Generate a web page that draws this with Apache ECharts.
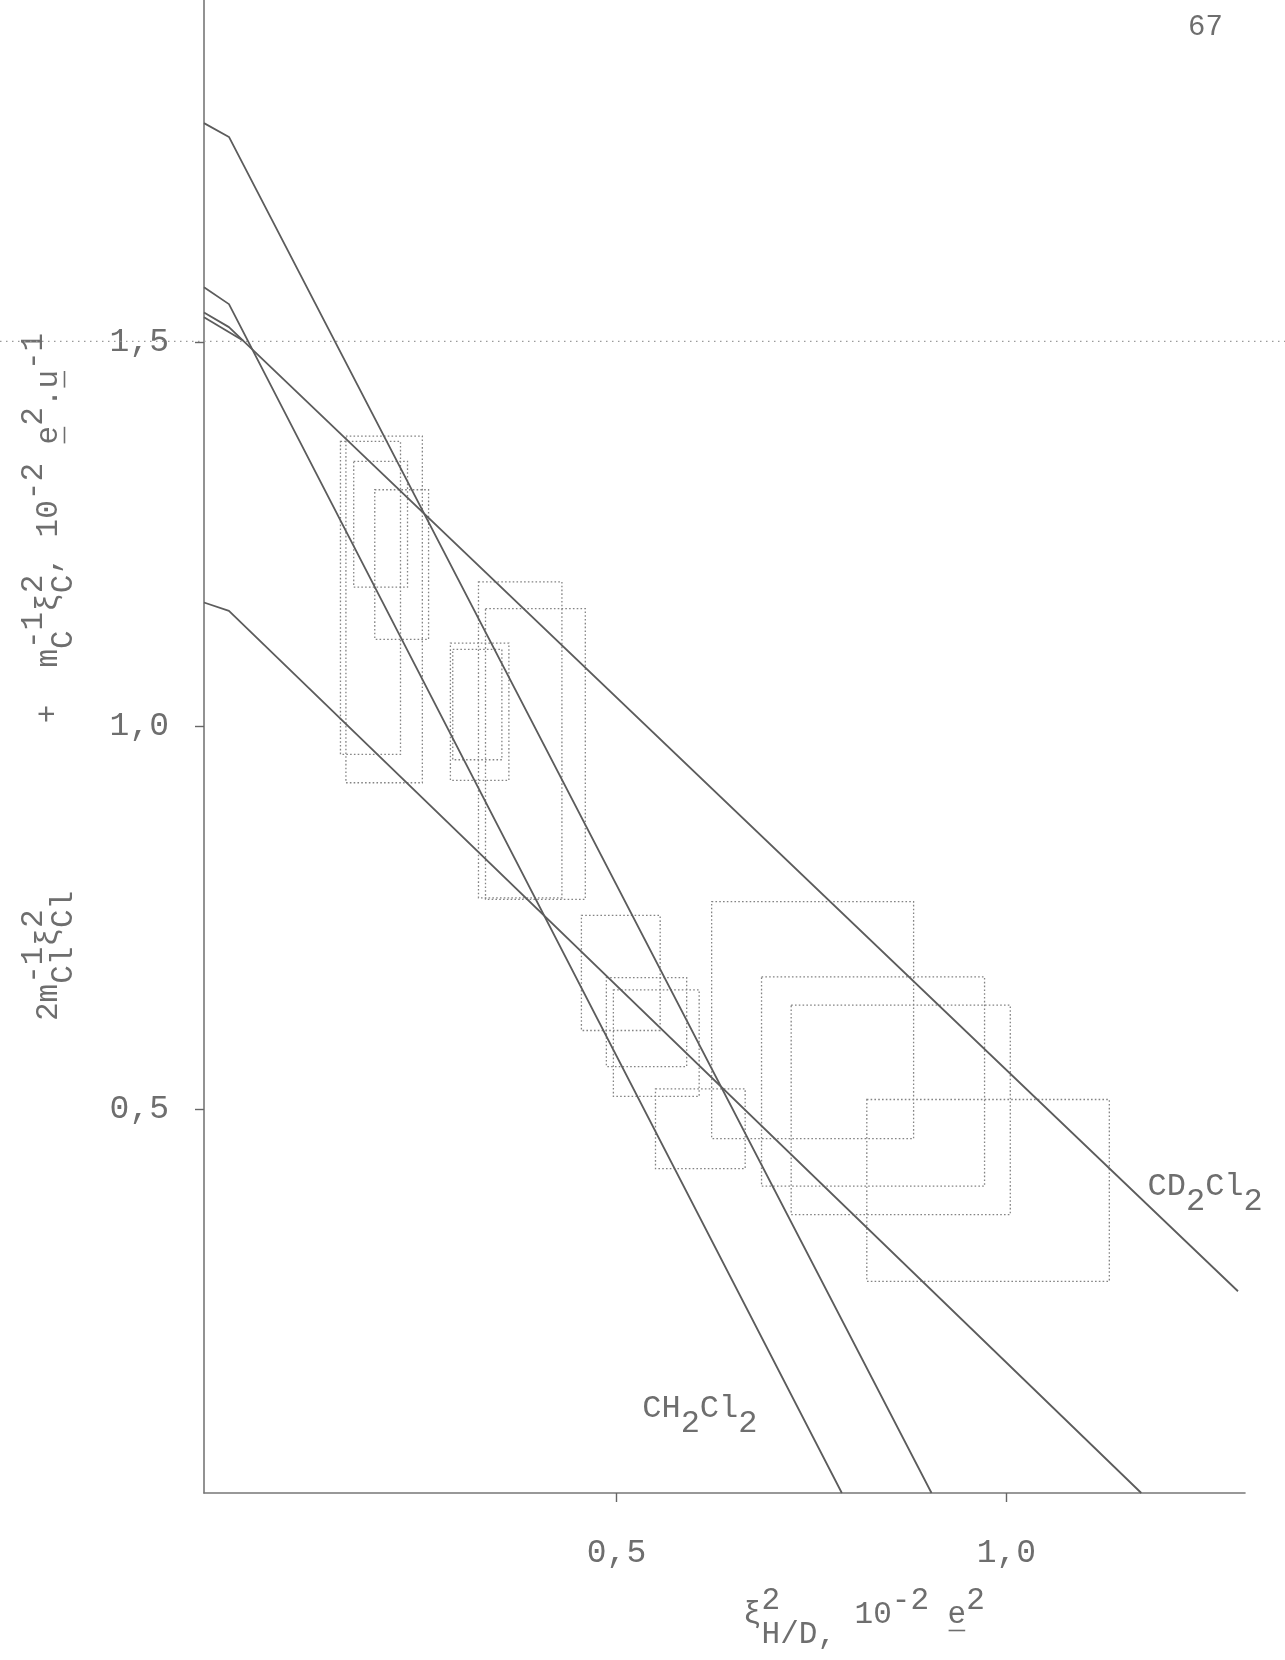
<!DOCTYPE html>
<html>
<head>
<meta charset="utf-8">
<script src="https://cdn.jsdelivr.net/npm/echarts@6/dist/echarts.min.js"></script>
<style>
  html, body { margin: 0; padding: 0; background: #ffffff; }
  #chart { width: 1285px; height: 1660px; }
</style>
</head>
<body>
<div id="chart"></div>
<script>
// Axis ticks (x: 10^-2 e^2, y: 10^-2 e^2 u^-1)
const xTicks = [0.5, 1.0];
const yTicks = [0.5, 1.0, 1.5];

// Fitted lines as [x, y] vertices; the first short segment is the pen lead-in at the axis
const lineA = [[-0.029, 1.786], [0.003, 1.768], [0.904, 0.0]];
const lineB = [[-0.029, 1.572], [0.003, 1.550], [0.789, 0.0]];
const lineC = [[-0.029, 1.539], [0.003, 1.520], [1.297, 0.263]];
const lineCRetrace = [[-0.029, 1.533], [0.021, 1.5025]];
const lineD = [[-0.029, 1.161], [0.003, 1.150], [1.173, 0.0]];

// Uncertainty boxes: [x from, x to, y from, y to]
const boxes = [
  [0.153, 0.251, 0.926, 1.378],
  [0.146, 0.223, 0.963, 1.371],
  [0.163, 0.232, 1.181, 1.345],
  [0.190, 0.259, 1.113, 1.308],
  [0.323, 0.430, 0.776, 1.188],
  [0.332, 0.460, 0.774, 1.153],
  [0.287, 0.362, 0.929, 1.108],
  [0.290, 0.353, 0.956, 1.100],
  [0.455, 0.556, 0.603, 0.753],
  [0.487, 0.590, 0.556, 0.672],
  [0.496, 0.606, 0.517, 0.656],
  [0.550, 0.665, 0.423, 0.527],
  [0.622, 0.881, 0.462, 0.771],
  [0.686, 0.972, 0.400, 0.673],
  [0.724, 1.005, 0.363, 0.636],
  [0.821, 1.132, 0.276, 0.513]
];

// Curve names and where their text starts (data coordinates, main text line centre)
const curveNames = [
  { tokens: [['CD', 0], ['2', 1], ['Cl', 0], ['2', 1]], at: [1.181, 0.400] },
  { tokens: [['CH', 0], ['2', 1], ['Cl', 0], ['2', 1]], at: [0.533, 0.110] }
];

// Axis titles, typewriter style: [text, row(-1 sup, 0 main, 1 sub), underline]; stacks share columns
const yTitle = [
  ['2m', 0], { sup: '-1', sub: 'Cl' }, ['ξ', 0], { sup: '2', sub: 'Cl' },
  ['         +  m', 0], { sup: '-1', sub: 'C' }, ['ξ', 0], { sup: '2', sub: 'C' },
  [', 10', 0], ['-2', -1], [' ', 0], ['e', 0, true], ['2', -1], ['.', 0], ['u', 0, true], ['-1', -1]
];
const xTitle = [
  ['ξ', 0], { sup: '2', sub: 'H/D,' }, [' 10', 0], ['-2', -1], [' ', 0], ['e', 0, true], ['2', -1]
];
const pageNumber = '67';

const FONT = '"Liberation Mono", "DejaVu Sans Mono", monospace';
const INK = '#6e6e6e';
const LINE_INK = '#5c5c5c';
const BOX_INK = '#848484';

const chart = echarts.init(document.getElementById('chart'), null, { renderer: 'canvas' });

const fmt = v => v.toFixed(1).replace('.', ',');

function lineSeries(data) {
  return {
    type: 'line', data: data, symbol: 'none', clip: false, z: 3,
    lineStyle: { color: LINE_INK, width: 1.8 }
  };
}

chart.setOption({
  animation: false,
  backgroundColor: '#ffffff',
  grid: { left: 204, top: 0, width: 1041, height: 1493 },
  xAxis: {
    type: 'value', min: -0.029, max: 1.306,
    axisLine: { show: true, lineStyle: { color: '#777777', width: 1.6 } },
    axisTick: { show: true, customValues: xTicks, length: 9, lineStyle: { color: '#666666', width: 1.4 } },
    axisLabel: { customValues: xTicks, formatter: fmt, margin: 44, fontFamily: FONT, fontSize: 33, color: INK },
    splitLine: { show: false }
  },
  yAxis: {
    type: 'value', min: 0, max: 1.9465,
    axisLine: { show: true, onZero: false, lineStyle: { color: '#777777', width: 1.6 } },
    axisTick: { show: true, customValues: yTicks, length: 9, lineStyle: { color: '#666666', width: 1.4 } },
    axisLabel: { customValues: yTicks, formatter: fmt, margin: 35, fontFamily: FONT, fontSize: 33, color: INK },
    splitLine: { show: false }
  },
  series: [
    {
      type: 'custom', data: boxes, clip: false, z: 2,
      encode: { x: [0, 1], y: [2, 3] },
      renderItem: function (params, api) {
        const p1 = api.coord([api.value(0), api.value(3)]);
        const p2 = api.coord([api.value(1), api.value(2)]);
        return {
          type: 'rect',
          shape: { x: p1[0], y: p1[1], width: p2[0] - p1[0], height: p2[1] - p1[1] },
          style: { fill: 'none', stroke: BOX_INK, lineWidth: 1.3, lineDash: [1.6, 2.2] }
        };
      }
    },
    lineSeries(lineA),
    lineSeries(lineB),
    lineSeries(lineC),
    lineSeries(lineCRetrace),
    lineSeries(lineD)
  ]
});

// Typewriter layout: every character occupies one column of the monospace pitch
function typeset(tokens, fontSize, supShift, subShift) {
  const pitch = fontSize * 0.6;
  const els = [];
  let col = 0;
  function put(str, c0, row, underline) {
    if (!str || !str.trim()) return;
    const y = row < 0 ? -supShift : (row > 0 ? subShift : 0);
    els.push({
      type: 'text', x: c0 * pitch, y: y,
      style: { text: str, font: fontSize + 'px ' + FONT, fill: INK, align: 'left', verticalAlign: 'middle' }
    });
    if (underline) {
      const uy = fontSize * 0.5;
      els.push({
        type: 'line',
        shape: { x1: c0 * pitch + 1, y1: uy, x2: (c0 + str.length) * pitch - 1, y2: uy },
        style: { stroke: INK, lineWidth: 1.6 }
      });
    }
  }
  tokens.forEach(tk => {
    if (Array.isArray(tk)) {
      put(tk[0], col, tk[1], tk[2]);
      col += tk[0].length;
    } else {
      put(tk.sup, col, -1);
      put(tk.sub, col, 1);
      col += Math.max(tk.sup.length, tk.sub.length);
    }
  });
  return els;
}

const guideY = chart.convertToPixel({ yAxisIndex: 0 }, 1.5);
const graphics = [
  // faint dotted rule across the sheet at the 1,5 level
  {
    type: 'line', z: 1,
    shape: { x1: 0, y1: guideY - 1, x2: 1285, y2: guideY - 1 },
    style: { stroke: '#9a9a9a', lineWidth: 1.2, lineDash: [1.5, 4.5] }
  },
  {
    type: 'text', x: 1188, y: 13,
    style: { text: pageNumber, font: '29px ' + FONT, fill: INK }
  },
  {
    type: 'group', x: 49, y: 1021, rotation: Math.PI / 2,
    children: typeset(yTitle, 31, 15, 15)
  },
  {
    type: 'group', x: 743, y: 1615,
    children: typeset(xTitle, 31, 14, 20)
  }
];
curveNames.forEach(cn => {
  const p = chart.convertToPixel({ xAxisIndex: 0, yAxisIndex: 0 }, cn.at);
  graphics.push({ type: 'group', x: p[0], y: p[1], children: typeset(cn.tokens, 32, 15, 15) });
});
chart.setOption({ graphic: graphics });
</script>
</body>
</html>
